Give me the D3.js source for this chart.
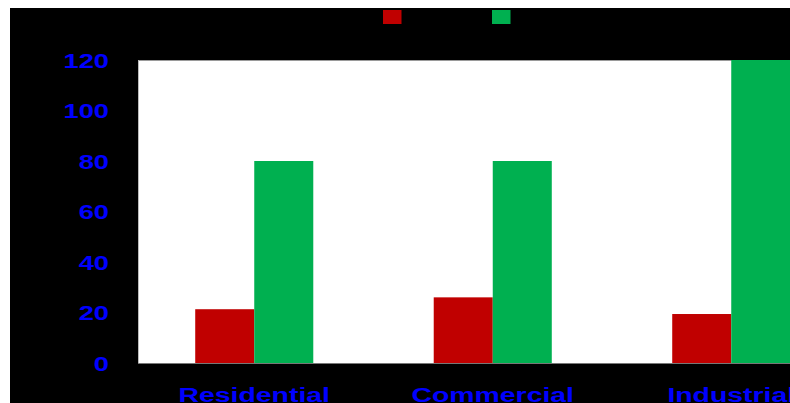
<!DOCTYPE html>
<html>
<head>
<meta charset="utf-8">
<script src="https://cdn.jsdelivr.net/npm/d3@7"></script>
<style>
  html, body { margin: 0; padding: 0; background: #ffffff; overflow: hidden; }
  svg { display: block; }
</style>
</head>
<body>
<svg id="chart" width="790" height="403"></svg>
<script>
// ---- data ----
const categories = ["Residential", "Commercial", "Industrial"];
const series = ["Series 1", "Series 2"];
const series1Values = [21.3, 26, 19.4];
const series2Values = [80, 80, 120];
const yTicks = [0, 20, 40, 60, 80, 100, 120];
const seriesColors = ["#c00000", "#00b050"];

const svg = d3.select("#chart");
const W = 790, H = 403;

// black chart background
svg.append("rect").attr("x", 10).attr("y", 8).attr("width", W - 10).attr("height", H - 8).attr("fill", "#000");

const y = d3.scaleLinear().domain([0, 120]).range([363, 60]);
const x = d3.scaleBand().domain(categories).range([135, 850.5]).paddingInner(0.505).paddingOuter(0.2525);
const xs = d3.scaleBand().domain(series).range([0, x.bandwidth()]);
const color = d3.scaleOrdinal().domain(series).range(seriesColors);

// plot area
const plotLeft = 138;
svg.append("rect").attr("x", plotLeft).attr("y", y(120)).attr("width", W - plotLeft).attr("height", y(0) - y(120)).attr("fill", "#fff");
svg.append("line").attr("x1", plotLeft).attr("x2", W).attr("y1", y(120) + 0.5).attr("y2", y(120) + 0.5).attr("stroke", "#9a9a9a");
svg.append("line").attr("x1", plotLeft).attr("x2", W).attr("y1", y(0) + 0.5).attr("y2", y(0) + 0.5).attr("stroke", "#777");
svg.append("line").attr("x1", plotLeft + 0.5).attr("x2", plotLeft + 0.5).attr("y1", y(120)).attr("y2", y(0)).attr("stroke", "#bbb");

// bars
const rows = categories.map((c, i) => ({ cat: c, vals: [series1Values[i], series2Values[i]] }));
const g = svg.append("g");
rows.forEach(r => {
  r.vals.forEach((v, j) => {
    g.append("rect")
      .attr("x", x(r.cat) + xs(series[j]))
      .attr("y", y(v))
      .attr("width", xs.bandwidth())
      .attr("height", y(0) - y(v))
      .attr("fill", color(series[j]));
  });
});

// y axis labels
const labelFont = "'Liberation Sans', Arial, sans-serif";
const yAxis = d3.axisLeft(y).tickValues(yTicks).tickSize(0).tickPadding(0);
const yg = svg.append("g").attr("transform", "translate(109,0)").call(yAxis);
yg.select(".domain").remove();
yg.selectAll(".tick text").each(function() {
  const t = d3.select(this);
  t.attr("x", null).attr("dy", "0.36em")
   .attr("transform", "scale(1.4,1)")
   .attr("fill", "#0000ff").attr("font-family", labelFont)
   .attr("font-weight", "bold").attr("font-size", 19.5).attr("text-anchor", "end");
});

// x axis labels
const xAxis = d3.axisBottom(x).tickSize(0).tickPadding(0);
const xg = svg.append("g").attr("transform", "translate(0,402)").call(xAxis);
xg.select(".domain").remove();
xg.selectAll(".tick text").each(function() {
  const t = d3.select(this);
  t.attr("y", 0).attr("dy", 0)
   .attr("transform", "scale(1.42,1)")
   .attr("fill", "#0000ff").attr("font-family", labelFont)
   .attr("font-weight", "bold").attr("font-size", 20).attr("text-anchor", "middle");
});

// legend
const lx = d3.scalePoint().domain(series).range([383, 492]);
series.forEach(s => {
  svg.append("rect").attr("x", lx(s)).attr("y", 10).attr("width", 18.5).attr("height", 14)
    .attr("fill", color(s));
});
</script>
</body>
</html>
